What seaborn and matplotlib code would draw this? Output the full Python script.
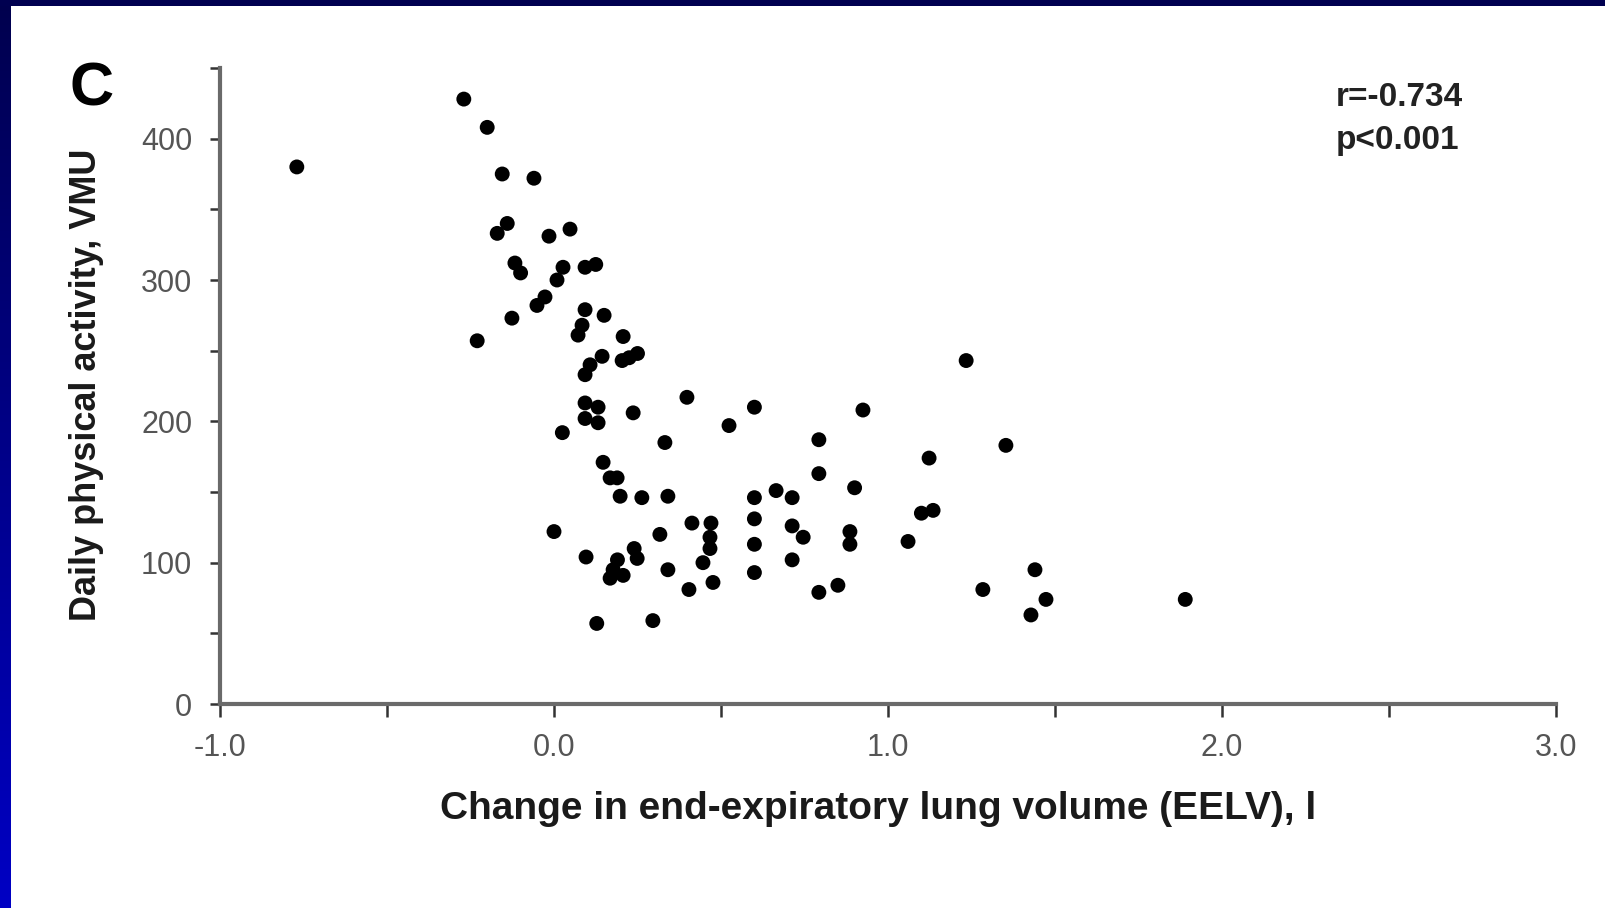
import numpy as np
import pandas as pd
import matplotlib
matplotlib.use("Agg")
import matplotlib.pyplot as plt
from matplotlib.colors import LinearSegmentedColormap
from matplotlib.patches import Rectangle
import seaborn as sns

# ---- data ----
eelv_change = [
    -0.77, -0.27, -0.20, -0.155, -0.06, -0.14, -0.17, -0.015, 0.048, -0.117,
    -0.10, 0.027, 0.009, 0.093, 0.125, -0.027, -0.051, -0.126, -0.23, 0.093,
    0.15, 0.084, 0.072, 0.207, 0.144, 0.108, 0.093, 0.204, 0.25, 0.225,
    0.398, 0.60, 0.925, 0.524, 0.093, 0.132, 0.093, 0.132, 0.237, 0.025,
    0.332, 0.793, 0.793, 1.234, 1.353, 1.123, 0.90, 1.10, 1.135, 0.886,
    0.886, 1.06, 1.44, 1.284, 1.473, 1.428, 0.85, 0.147, 0.168, 0.189,
    0.198, 0.263, 0.341, 0.60, 0.665, 0.713, 0.413, 0.47, 0.60, 0.713,
    0.746, 0.317, 0.467, 0.467, 0.60, 0.446, 0.096, 0.24, 0.249, 0.19,
    0.177, 0.168, 0.207, 0.341, 0.404, 0.476, 0.60, 0.793, 0.128, 0.296,
    0.0, 1.89, 0.713,
]
daily_activity = [
    380, 428, 408, 375, 372, 340, 333, 331, 336, 312,
    305, 309, 300, 309, 311, 288, 282, 273, 257, 279,
    275, 268, 261, 260, 246, 240, 233, 243, 248, 245,
    217, 210, 208, 197, 213, 210, 202, 199, 206, 192,
    185, 187, 163, 243, 183, 174, 153, 135, 137, 122,
    113, 115, 95, 81, 74, 63, 84, 171, 160, 160,
    147, 146, 147, 146, 151, 146, 128, 128, 131, 126,
    118, 120, 118, 110, 113, 100, 104, 110, 103, 102,
    95, 89, 91, 95, 81, 86, 93, 79, 57, 59,
    122, 74, 102,
]
x_ticks = [-1.0, -0.5, 0.0, 0.5, 1.0, 1.5, 2.0, 2.5, 3.0]
x_tick_labels = ["-1.0", "", "0.0", "", "1.0", "", "2.0", "", "3.0"]
y_ticks = [0, 50, 100, 150, 200, 250, 300, 350, 400, 450]
y_tick_labels = ["0", "", "100", "", "200", "", "300", "", "400", ""]
x_label = "Change in end-expiratory lung volume (EELV), l"
y_label = "Daily physical activity, VMU"
panel_letter = "C"
stats_lines = ["r=-0.734", "p<0.001"]

df = pd.DataFrame({"x": eelv_change, "y": daily_activity})

sns.set_style("white")
plt.rcParams["font.family"] = ["Liberation Sans", "DejaVu Sans"]

W, H = 1605, 908
fig = plt.figure(figsize=(W / 100, H / 100), dpi=100)
fig.patch.set_facecolor("white")

# axes placement (pixel-based)
left_px, right_px, top_px, bottom_px = 220, 1556, 68, 704
ax = fig.add_axes([left_px / W, 1 - bottom_px / H,
                   (right_px - left_px) / W, (bottom_px - top_px) / H])

sns.scatterplot(data=df, x="x", y="y", ax=ax, color="black", s=115,
                edgecolor="none", linewidth=0, legend=False, zorder=3)

ax.set_xlim(-1.0, 3.0)
ax.set_ylim(0, 450)
ax.set_xticks(x_ticks)
ax.set_xticklabels(x_tick_labels)
ax.set_yticks(y_ticks)
ax.set_yticklabels(y_tick_labels)

for side in ["top", "right"]:
    ax.spines[side].set_visible(False)
for side in ["left", "bottom"]:
    ax.spines[side].set_color("#6a6a6a")
    ax.spines[side].set_linewidth(3.0)

ax.tick_params(axis="x", direction="out", length=9, width=1.8, color="#333333",
               pad=12, labelsize=22, labelcolor="#555555", bottom=True)
ax.tick_params(axis="y", direction="out", length=7, width=1.8, color="#333333",
               pad=13, labelsize=22, labelcolor="#555555", left=True)

ax.set_xlabel(x_label, fontsize=28, fontweight="bold", color="#1a1a1a")
ax.set_ylabel(y_label, fontsize=26, fontweight="bold", color="#1a1a1a")
ax.xaxis.label.set_va("center")
ax.yaxis.label.set_va("center")
ax.xaxis.set_label_coords((878 - left_px) / (right_px - left_px),
                          (bottom_px - 809) / (bottom_px - top_px))
ax.yaxis.set_label_coords((87 - left_px) / (right_px - left_px),
                          (bottom_px - 385) / (bottom_px - top_px))

# panel letter
fig.text(92 / W, 1 - 90 / H, panel_letter, fontsize=44, fontweight="bold",
         ha="center", va="center", color="black")

# statistics annotation
fig.text(1336 / W, 1 - 98 / H, stats_lines[0], fontsize=24, fontweight="bold",
         ha="left", va="center", color="#222222")
fig.text(1336 / W, 1 - 141 / H, stats_lines[1], fontsize=24, fontweight="bold",
         ha="left", va="center", color="#222222")

# blue slide frame: gradient strip on the left, navy strip on top
strip = fig.add_axes([0, 0, 11 / W, 1])
cmap = LinearSegmentedColormap.from_list("frame", ["#00004e", "#0000c4"])
strip.imshow(np.linspace(0, 1, 256).reshape(-1, 1), aspect="auto", cmap=cmap)
strip.set_axis_off()
fig.add_artist(Rectangle((0, 1 - 6 / H), 1, 6 / H, transform=fig.transFigure,
                         facecolor="#000050", edgecolor="none"))

fig.savefig("out.png", dpi=100)
